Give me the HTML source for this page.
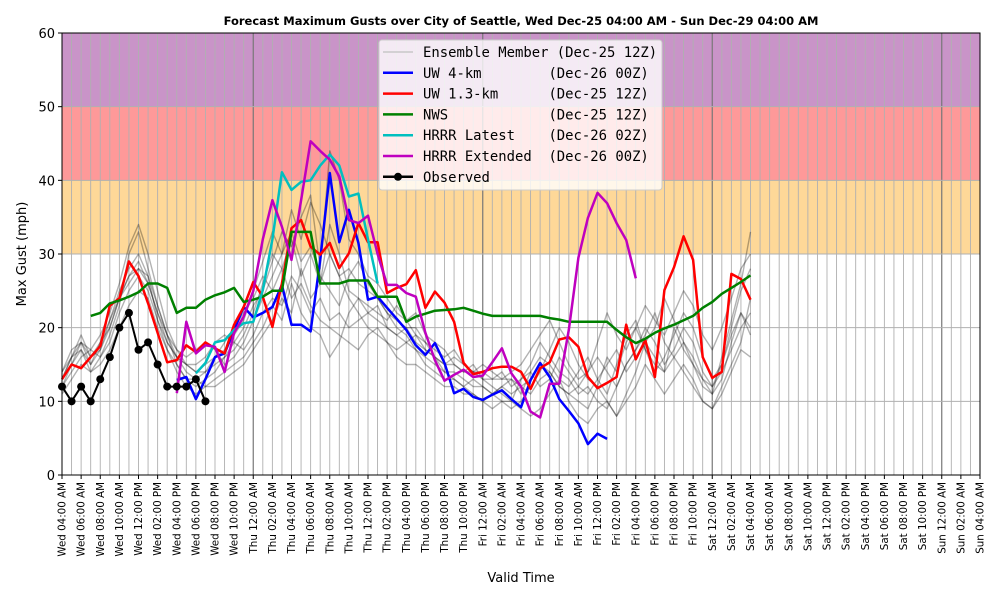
<!DOCTYPE html>
<html><head><meta charset="utf-8"><style>
html,body{margin:0;padding:0;background:#fff;}
svg{display:block;font-family:"DejaVu Sans","Liberation Sans",sans-serif;}
</style></head><body>
<svg id="chart" width="1000" height="600" xmlns="http://www.w3.org/2000/svg">
<text x="521" y="25" text-anchor="middle" font-size="11.5" font-weight="bold">Forecast Maximum Gusts over City of Seattle, Wed Dec-25 04:00 AM - Sun Dec-29 04:00 AM</text>
<g id="bands"></g><g id="grid"></g><g id="series"></g>
<rect x="62" y="33" width="918" height="442" fill="none" stroke="#000" stroke-width="1"/>
<g id="axes"></g>
<text transform="translate(26,254) rotate(-90)" text-anchor="middle" font-size="13">Max Gust (mph)</text>
<text x="521" y="582" text-anchor="middle" font-size="13">Valid Time</text>
<g id="legend"></g>
</svg>
<script>
const yTicks=[0,10,20,30,40,50,60];
const days=["Wed","Thu","Fri","Sat","Sun"];
const observed=[12,10,12,10,13,16,20,22,17,18,15,12,12,12,13,10];
const uw13=[13,15,14.5,16,17.5,23,24,29,27,23.3,19.3,15.3,15.6,17.6,16.7,18,17.2,16.5,20.4,22.8,26.2,24.2,20.1,26,33.5,34.6,31,29.9,31.5,28.1,30.1,34.2,31.6,31.6,24.7,25.4,25.9,27.8,22.7,24.9,23.4,20.8,15.2,13.7,14,14.5,14.7,14.7,14,11.7,14.5,15.3,18.4,18.7,17.4,13.3,11.8,12.5,13.3,20.4,15.7,18.3,13.3,25.1,28.2,32.4,29.2,16,13.2,14,27.3,26.6,23.8];
const uw4Start=12;
const uw4=[12.9,13.3,10.3,13,16,16.5,19.7,22.8,21.4,22,22.8,25.8,20.4,20.4,19.5,29.2,41,31.6,36,31.5,23.8,24.2,22.7,21.2,19.7,17.6,16.3,17.9,15.2,11.1,11.7,10.6,10.2,10.9,11.5,10.3,9.2,12.9,15.2,13.3,10.3,8.7,7,4.2,5.6,4.9];
const nwsStart=3;
const nws=[21.6,22,23.3,23.7,24.2,24.8,26,26,25.4,22,22.7,22.7,23.8,24.4,24.8,25.4,23.5,23.8,24.2,25,25,33,33,33,26,26,26,26.4,26.4,26.4,24.2,24.2,24.2,20.8,21.5,21.9,22.3,22.4,22.5,22.7,22.3,21.9,21.6,21.6,21.6,21.6,21.6,21.6,21.3,21.1,20.8,20.8,20.8,20.8,20.8,19.7,18.7,17.9,18.5,19.3,19.9,20.4,21,21.6,22.7,23.5,24.6,25.4,26.2,27.1];
const hrrrStart=14;
const hrrr=[13.8,15.2,18,18.3,19.7,20.6,20.8,25.1,32,41.1,38.7,39.8,40,42,43.5,42,37.8,38.2,32,26];
const hrrrxStart=12;
const hrrrx=[11.1,20.8,16.5,17.6,17.4,14,19.3,21.5,25,32,37.3,33.7,29.2,37.3,45.3,44,42.8,40.5,34.6,34.2,35.2,30,25.8,25.8,24.7,24.2,19.3,15.6,12.8,13.6,14.3,13.3,13.5,15.3,17.2,13.8,12,8.6,7.8,12.4,12.4,19.7,29.5,34.9,38.3,36.9,34.2,31.9,26.7];
const m1=[13,16,19,16,17,20,24,27,29,26,22,18,16,15,14,14,15,16,17,19,22,26,30,28,32,27,30,26,34,30,25,24,22,21,20,19,20,18,17,16,15,16,15,14,14,13,13,13,12,11,13,14,12,11,10,9,12,16,14,18,20,17,15,14,20,17,15,12,11,13,18,22,20];
const m2=[12,15,17,14,16,19,23,30,33,28,23,19,15,13,12,13,14,16,18,20,23,25,29,33,31,35,38,28,44,40,32,30,27,26,24,22,21,22,19,18,17,15,14,15,13,12,11,10,13,15,18,16,14,13,11,12,10,9,12,15,17,19,22,18,16,14,12,10,9,12,15,18,24];
const m3=[14,17,18,15,18,21,25,28,30,27,21,17,14,12,11,12,13,14,15,16,18,20,23,21,26,22,20,19,16,18,22,24,23,22,21,23,21,19,18,16,14,13,12,11,10,11,12,13,11,14,16,15,13,12,14,16,13,11,15,19,21,17,14,16,19,22,20,16,13,15,20,25,28];
const m4=[12,14,16,17,19,22,26,31,34,30,25,20,17,16,17,18,17,15,16,18,21,24,27,30,33,29,31,27,25,23,27,29,26,24,22,20,19,17,16,15,14,14,13,12,12,11,10,9,10,12,14,17,20,18,15,13,12,10,8,11,14,18,20,24,21,18,15,13,11,16,21,26,33];
const m5=[13,16,18,17,16,18,22,25,27,25,21,18,16,14,13,14,16,18,20,22,24,27,25,28,24,26,23,21,20,19,18,17,19,20,18,17,18,17,15,14,13,13,12,13,12,11,12,11,12,13,15,14,12,11,12,14,16,14,12,15,17,20,18,15,17,20,18,14,12,15,19,22,19];
const m6=[11,13,15,14,15,17,20,23,25,24,20,17,15,13,13,12,12,13,14,15,17,19,21,24,22,28,24,26,30,27,24,22,20,19,18,16,15,15,14,13,12,12,11,11,10,9,10,10,9,8,9,11,13,10,8,7,9,10,8,10,12,15,13,11,13,15,13,10,9,11,14,17,16];
const m7=[13,15,18,16,18,20,24,27,28,26,22,19,17,15,14,15,16,17,19,21,25,29,33,30,36,32,37,34,30,27,28,26,25,24,22,21,20,20,18,17,16,17,15,14,15,14,13,14,15,17,19,21,18,15,13,14,18,22,19,17,20,23,21,19,22,25,23,19,17,20,24,28,30];
const m8=[14,16,17,15,17,21,24,26,28,27,23,19,16,15,15,16,18,19,18,17,19,22,24,23,27,25,22,24,21,22,20,21,22,23,20,19,18,19,17,16,15,15,14,14,13,13,14,12,13,14,12,13,16,14,12,11,13,15,17,14,16,18,16,14,16,18,16,13,12,14,17,20,22];
const members=[m1,m2,m3,m4,m5,m6,m7,m8];

const NS="http://www.w3.org/2000/svg";
const X0=62,X1=980,Y0=475,Y1=33,NH=96;
const xs=h=>X0+(X1-X0)*h/NH;
const ys=v=>Y0-(Y0-Y1)*v/60;
function mk(parent,tag,attrs){const e=document.createElementNS(NS,tag);for(const k in attrs)e.setAttribute(k,attrs[k]);document.getElementById(parent).appendChild(e);return e;}

let e;
e=mk('bands','rect',{x:X0,y:ys(40),width:X1-X0,height:ys(30)-ys(40),fill:'#fed898'});


e=mk('bands','rect',{x:X0,y:ys(50),width:X1-X0,height:ys(40)-ys(50),fill:'#fe9999'});


e=mk('bands','rect',{x:X0,y:ys(60),width:X1-X0,height:ys(50)-ys(60),fill:'#c994c8'});



for(let h=0;h<=NH;h++){
  const mid=(h+4)%24===0;
  e=mk('grid','line',{x1:xs(h),x2:xs(h),y1:Y1,y2:Y0,stroke:mid?'#777':'#b0b0b0','stroke-width':mid?1.2:0.9});
  
  
}
yTicks.forEach(v=>{
  e=mk('grid','line',{x1:X0,x2:X1,y1:ys(v),y2:ys(v),stroke:'#b0b0b0','stroke-width':1});
  
  
  e=mk('axes','line',{x1:X0-4,x2:X0,y1:ys(v),y2:ys(v),stroke:'#000'});
  
  
  e=mk('axes','text',{x:X0-7,y:ys(v)+5,'text-anchor':'end','font-size':13});
  e.textContent=v;
  
  
});
for(let h=0;h<=NH;h+=2){
  const x=xs(h);
  e=mk('axes','line',{x1:x,x2:x,y1:Y0,y2:Y0+4,stroke:'#000'});
  
  
  const t=h+4, d=days[Math.floor(t/24)], hr=t%24, h12=hr%12===0?12:hr%12;
  const lab=d+' '+String(h12).padStart(2,'0')+':00 '+(hr<12?'AM':'PM');
  e=mk('axes','text',{transform:`translate(${x+3.5},${Y0+7}) rotate(-90)`,'text-anchor':'end','font-size':10.3});
  e.textContent=lab;
  
  
}
function line(arr,start,color,w,op,name){
  const pts=arr.map((v,i)=>xs(start+i).toFixed(1)+','+ys(v).toFixed(1)).join(' ');
  const p=mk('series','polyline',{points:pts,fill:'none',stroke:color,'stroke-width':w,'stroke-opacity':op,'stroke-linejoin':'round'});
  
  
}
members.forEach((m,i)=>line(m,0,'#000',1.4,0.3,'ensemble-member-line'));
line(uw4,uw4Start,'#0000ff',2.5,1,'uw-4km-line');
line(uw13,0,'#ff0000',2.5,1,'uw-1p3km-line');
line(nws,nwsStart,'#008000',2.5,1,'nws-line');
line(hrrr,hrrrStart,'#00bfbf',2.5,1,'hrrr-latest-line');
line(hrrrx,hrrrxStart,'#bf00bf',2.5,1,'hrrr-extended-line');
line(observed,0,'#000',2,1,'observed-line');
observed.forEach((v,i)=>{
  e=mk('series','circle',{cx:xs(i),cy:ys(v),r:4,fill:'#000'});
  
  
});

e=mk('legend','rect',{x:379,y:40,width:283,height:150,rx:3,fill:'#fff','fill-opacity':0.8,stroke:'#ccc'});


const legNames=["Ensemble Member (Dec-25 12Z)","UW 4-km        (Dec-26 00Z)","UW 1.3-km      (Dec-25 12Z)","NWS            (Dec-25 12Z)","HRRR Latest    (Dec-26 02Z)","HRRR Extended  (Dec-26 00Z)","Observed"];
const legColors=['#c8c8c8','#0000ff','#ff0000','#008000','#00bfbf','#bf00bf','#000'];
legNames.forEach((n,i)=>{
  const y=52+i*20.8;
  e=mk('legend','line',{x1:383,x2:413,y1:y,y2:y,stroke:legColors[i],'stroke-width':i==0?1.5:2.5});
  
  
  if(i==6){e=mk('legend','circle',{cx:398,cy:y,r:4,fill:'#000'});
    
    }
  e=mk('legend','text',{x:423,y:y+5,'font-size':13.9,'font-family':'"DejaVu Sans Mono","Liberation Mono",monospace','xml:space':'preserve'});
  e.style.whiteSpace='pre';
  e.textContent=n;
  
  
});
</script>
</body></html>
